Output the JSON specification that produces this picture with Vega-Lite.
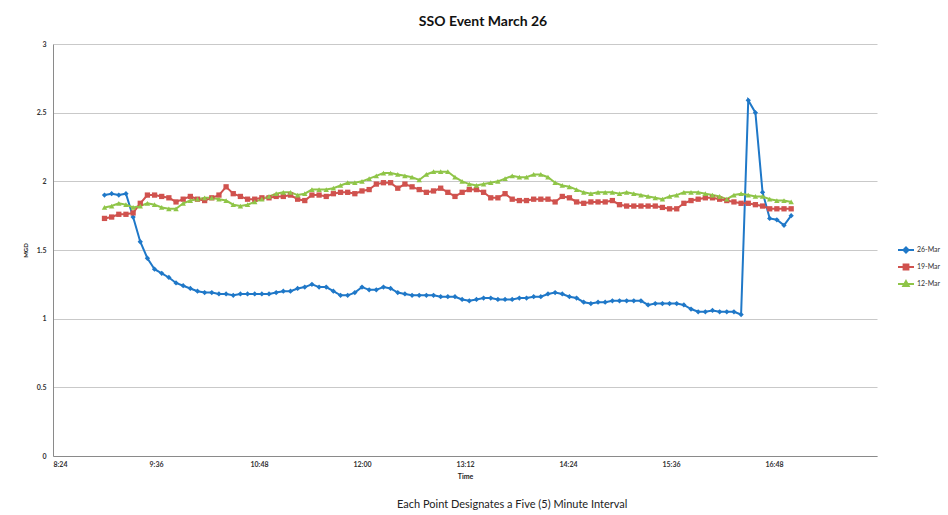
{
  "$schema": "https://vega.github.io/schema/vega-lite/v6.json",
  "width": 824,
  "height": 412,
  "autosize": "none",
  "padding": {"left": 53, "top": 44, "right": 71, "bottom": 59},
  "background": "white",
  "config": {"font": "Lato", "view": {"stroke": null}},
  "title": {"text": "SSO Event March 26", "fontSize": 14, "fontWeight": "bold", "color": "#111", "offset": 11, "dx": 18, "font": "Lato"},
  "layer": [
    {
      "data": {
        "format": {"parse": {"t": "date:'%H:%M'"}},
        "values": [
          {"t":"09:00","s":"26-Mar","v":1.90},{"t":"09:05","s":"26-Mar","v":1.91},{"t":"09:10","s":"26-Mar","v":1.90},{"t":"09:15","s":"26-Mar","v":1.91},{"t":"09:20","s":"26-Mar","v":1.74},{"t":"09:25","s":"26-Mar","v":1.56},{"t":"09:30","s":"26-Mar","v":1.44},{"t":"09:35","s":"26-Mar","v":1.36},{"t":"09:40","s":"26-Mar","v":1.33},{"t":"09:45","s":"26-Mar","v":1.30},{"t":"09:50","s":"26-Mar","v":1.26},{"t":"09:55","s":"26-Mar","v":1.24},
          {"t":"10:00","s":"26-Mar","v":1.22},{"t":"10:05","s":"26-Mar","v":1.20},{"t":"10:10","s":"26-Mar","v":1.19},{"t":"10:15","s":"26-Mar","v":1.19},{"t":"10:20","s":"26-Mar","v":1.18},{"t":"10:25","s":"26-Mar","v":1.18},{"t":"10:30","s":"26-Mar","v":1.17},{"t":"10:35","s":"26-Mar","v":1.18},{"t":"10:40","s":"26-Mar","v":1.18},{"t":"10:45","s":"26-Mar","v":1.18},{"t":"10:50","s":"26-Mar","v":1.18},{"t":"10:55","s":"26-Mar","v":1.18},
          {"t":"11:00","s":"26-Mar","v":1.19},{"t":"11:05","s":"26-Mar","v":1.20},{"t":"11:10","s":"26-Mar","v":1.20},{"t":"11:15","s":"26-Mar","v":1.22},{"t":"11:20","s":"26-Mar","v":1.23},{"t":"11:25","s":"26-Mar","v":1.25},{"t":"11:30","s":"26-Mar","v":1.23},{"t":"11:35","s":"26-Mar","v":1.23},{"t":"11:40","s":"26-Mar","v":1.20},{"t":"11:45","s":"26-Mar","v":1.17},{"t":"11:50","s":"26-Mar","v":1.17},{"t":"11:55","s":"26-Mar","v":1.19},
          {"t":"12:00","s":"26-Mar","v":1.23},{"t":"12:05","s":"26-Mar","v":1.21},{"t":"12:10","s":"26-Mar","v":1.21},{"t":"12:15","s":"26-Mar","v":1.23},{"t":"12:20","s":"26-Mar","v":1.22},{"t":"12:25","s":"26-Mar","v":1.19},{"t":"12:30","s":"26-Mar","v":1.18},{"t":"12:35","s":"26-Mar","v":1.17},{"t":"12:40","s":"26-Mar","v":1.17},{"t":"12:45","s":"26-Mar","v":1.17},{"t":"12:50","s":"26-Mar","v":1.17},{"t":"12:55","s":"26-Mar","v":1.16},
          {"t":"13:00","s":"26-Mar","v":1.16},{"t":"13:05","s":"26-Mar","v":1.16},{"t":"13:10","s":"26-Mar","v":1.14},{"t":"13:15","s":"26-Mar","v":1.13},{"t":"13:20","s":"26-Mar","v":1.14},{"t":"13:25","s":"26-Mar","v":1.15},{"t":"13:30","s":"26-Mar","v":1.15},{"t":"13:35","s":"26-Mar","v":1.14},{"t":"13:40","s":"26-Mar","v":1.14},{"t":"13:45","s":"26-Mar","v":1.14},{"t":"13:50","s":"26-Mar","v":1.15},{"t":"13:55","s":"26-Mar","v":1.15},
          {"t":"14:00","s":"26-Mar","v":1.16},{"t":"14:05","s":"26-Mar","v":1.16},{"t":"14:10","s":"26-Mar","v":1.18},{"t":"14:15","s":"26-Mar","v":1.19},{"t":"14:20","s":"26-Mar","v":1.18},{"t":"14:25","s":"26-Mar","v":1.16},{"t":"14:30","s":"26-Mar","v":1.15},{"t":"14:35","s":"26-Mar","v":1.12},{"t":"14:40","s":"26-Mar","v":1.11},{"t":"14:45","s":"26-Mar","v":1.12},{"t":"14:50","s":"26-Mar","v":1.12},{"t":"14:55","s":"26-Mar","v":1.13},
          {"t":"15:00","s":"26-Mar","v":1.13},{"t":"15:05","s":"26-Mar","v":1.13},{"t":"15:10","s":"26-Mar","v":1.13},{"t":"15:15","s":"26-Mar","v":1.13},{"t":"15:20","s":"26-Mar","v":1.10},{"t":"15:25","s":"26-Mar","v":1.11},{"t":"15:30","s":"26-Mar","v":1.11},{"t":"15:35","s":"26-Mar","v":1.11},{"t":"15:40","s":"26-Mar","v":1.11},{"t":"15:45","s":"26-Mar","v":1.10},{"t":"15:50","s":"26-Mar","v":1.07},{"t":"15:55","s":"26-Mar","v":1.05},
          {"t":"16:00","s":"26-Mar","v":1.05},{"t":"16:05","s":"26-Mar","v":1.06},{"t":"16:10","s":"26-Mar","v":1.05},{"t":"16:15","s":"26-Mar","v":1.05},{"t":"16:20","s":"26-Mar","v":1.05},{"t":"16:25","s":"26-Mar","v":1.03},{"t":"16:30","s":"26-Mar","v":2.59},{"t":"16:35","s":"26-Mar","v":2.50},{"t":"16:40","s":"26-Mar","v":1.92},{"t":"16:45","s":"26-Mar","v":1.73},{"t":"16:50","s":"26-Mar","v":1.72},{"t":"16:55","s":"26-Mar","v":1.68},
          {"t":"17:00","s":"26-Mar","v":1.75},
          {"t":"09:00","s":"19-Mar","v":1.73},{"t":"09:05","s":"19-Mar","v":1.74},{"t":"09:10","s":"19-Mar","v":1.76},{"t":"09:15","s":"19-Mar","v":1.76},{"t":"09:20","s":"19-Mar","v":1.77},{"t":"09:25","s":"19-Mar","v":1.84},{"t":"09:30","s":"19-Mar","v":1.90},{"t":"09:35","s":"19-Mar","v":1.90},{"t":"09:40","s":"19-Mar","v":1.89},{"t":"09:45","s":"19-Mar","v":1.88},{"t":"09:50","s":"19-Mar","v":1.85},{"t":"09:55","s":"19-Mar","v":1.87},
          {"t":"10:00","s":"19-Mar","v":1.89},{"t":"10:05","s":"19-Mar","v":1.87},{"t":"10:10","s":"19-Mar","v":1.86},{"t":"10:15","s":"19-Mar","v":1.88},{"t":"10:20","s":"19-Mar","v":1.90},{"t":"10:25","s":"19-Mar","v":1.96},{"t":"10:30","s":"19-Mar","v":1.91},{"t":"10:35","s":"19-Mar","v":1.89},{"t":"10:40","s":"19-Mar","v":1.87},{"t":"10:45","s":"19-Mar","v":1.87},{"t":"10:50","s":"19-Mar","v":1.88},{"t":"10:55","s":"19-Mar","v":1.88},
          {"t":"11:00","s":"19-Mar","v":1.89},{"t":"11:05","s":"19-Mar","v":1.89},{"t":"11:10","s":"19-Mar","v":1.90},{"t":"11:15","s":"19-Mar","v":1.87},{"t":"11:20","s":"19-Mar","v":1.86},{"t":"11:25","s":"19-Mar","v":1.90},{"t":"11:30","s":"19-Mar","v":1.90},{"t":"11:35","s":"19-Mar","v":1.89},{"t":"11:40","s":"19-Mar","v":1.91},{"t":"11:45","s":"19-Mar","v":1.92},{"t":"11:50","s":"19-Mar","v":1.92},{"t":"11:55","s":"19-Mar","v":1.91},
          {"t":"12:00","s":"19-Mar","v":1.93},{"t":"12:05","s":"19-Mar","v":1.94},{"t":"12:10","s":"19-Mar","v":1.98},{"t":"12:15","s":"19-Mar","v":1.99},{"t":"12:20","s":"19-Mar","v":1.99},{"t":"12:25","s":"19-Mar","v":1.95},{"t":"12:30","s":"19-Mar","v":1.98},{"t":"12:35","s":"19-Mar","v":1.96},{"t":"12:40","s":"19-Mar","v":1.94},{"t":"12:45","s":"19-Mar","v":1.92},{"t":"12:50","s":"19-Mar","v":1.93},{"t":"12:55","s":"19-Mar","v":1.95},
          {"t":"13:00","s":"19-Mar","v":1.92},{"t":"13:05","s":"19-Mar","v":1.89},{"t":"13:10","s":"19-Mar","v":1.92},{"t":"13:15","s":"19-Mar","v":1.94},{"t":"13:20","s":"19-Mar","v":1.94},{"t":"13:25","s":"19-Mar","v":1.92},{"t":"13:30","s":"19-Mar","v":1.88},{"t":"13:35","s":"19-Mar","v":1.88},{"t":"13:40","s":"19-Mar","v":1.91},{"t":"13:45","s":"19-Mar","v":1.87},{"t":"13:50","s":"19-Mar","v":1.86},{"t":"13:55","s":"19-Mar","v":1.86},
          {"t":"14:00","s":"19-Mar","v":1.87},{"t":"14:05","s":"19-Mar","v":1.87},{"t":"14:10","s":"19-Mar","v":1.87},{"t":"14:15","s":"19-Mar","v":1.85},{"t":"14:20","s":"19-Mar","v":1.89},{"t":"14:25","s":"19-Mar","v":1.88},{"t":"14:30","s":"19-Mar","v":1.85},{"t":"14:35","s":"19-Mar","v":1.84},{"t":"14:40","s":"19-Mar","v":1.85},{"t":"14:45","s":"19-Mar","v":1.85},{"t":"14:50","s":"19-Mar","v":1.85},{"t":"14:55","s":"19-Mar","v":1.86},
          {"t":"15:00","s":"19-Mar","v":1.83},{"t":"15:05","s":"19-Mar","v":1.82},{"t":"15:10","s":"19-Mar","v":1.82},{"t":"15:15","s":"19-Mar","v":1.82},{"t":"15:20","s":"19-Mar","v":1.82},{"t":"15:25","s":"19-Mar","v":1.82},{"t":"15:30","s":"19-Mar","v":1.81},{"t":"15:35","s":"19-Mar","v":1.80},{"t":"15:40","s":"19-Mar","v":1.80},{"t":"15:45","s":"19-Mar","v":1.84},{"t":"15:50","s":"19-Mar","v":1.86},{"t":"15:55","s":"19-Mar","v":1.87},
          {"t":"16:00","s":"19-Mar","v":1.88},{"t":"16:05","s":"19-Mar","v":1.88},{"t":"16:10","s":"19-Mar","v":1.87},{"t":"16:15","s":"19-Mar","v":1.86},{"t":"16:20","s":"19-Mar","v":1.85},{"t":"16:25","s":"19-Mar","v":1.84},{"t":"16:30","s":"19-Mar","v":1.84},{"t":"16:35","s":"19-Mar","v":1.83},{"t":"16:40","s":"19-Mar","v":1.82},{"t":"16:45","s":"19-Mar","v":1.80},{"t":"16:50","s":"19-Mar","v":1.80},{"t":"16:55","s":"19-Mar","v":1.80},
          {"t":"17:00","s":"19-Mar","v":1.80},
          {"t":"09:00","s":"12-Mar","v":1.81},{"t":"09:05","s":"12-Mar","v":1.82},{"t":"09:10","s":"12-Mar","v":1.84},{"t":"09:15","s":"12-Mar","v":1.83},{"t":"09:20","s":"12-Mar","v":1.81},{"t":"09:25","s":"12-Mar","v":1.82},{"t":"09:30","s":"12-Mar","v":1.84},{"t":"09:35","s":"12-Mar","v":1.83},{"t":"09:40","s":"12-Mar","v":1.81},{"t":"09:45","s":"12-Mar","v":1.80},{"t":"09:50","s":"12-Mar","v":1.80},{"t":"09:55","s":"12-Mar","v":1.84},
          {"t":"10:00","s":"12-Mar","v":1.86},{"t":"10:05","s":"12-Mar","v":1.87},{"t":"10:10","s":"12-Mar","v":1.88},{"t":"10:15","s":"12-Mar","v":1.88},{"t":"10:20","s":"12-Mar","v":1.87},{"t":"10:25","s":"12-Mar","v":1.86},{"t":"10:30","s":"12-Mar","v":1.83},{"t":"10:35","s":"12-Mar","v":1.82},{"t":"10:40","s":"12-Mar","v":1.83},{"t":"10:45","s":"12-Mar","v":1.85},{"t":"10:50","s":"12-Mar","v":1.87},{"t":"10:55","s":"12-Mar","v":1.89},
          {"t":"11:00","s":"12-Mar","v":1.91},{"t":"11:05","s":"12-Mar","v":1.92},{"t":"11:10","s":"12-Mar","v":1.92},{"t":"11:15","s":"12-Mar","v":1.90},{"t":"11:20","s":"12-Mar","v":1.91},{"t":"11:25","s":"12-Mar","v":1.94},{"t":"11:30","s":"12-Mar","v":1.94},{"t":"11:35","s":"12-Mar","v":1.94},{"t":"11:40","s":"12-Mar","v":1.95},{"t":"11:45","s":"12-Mar","v":1.97},{"t":"11:50","s":"12-Mar","v":1.99},{"t":"11:55","s":"12-Mar","v":1.99},
          {"t":"12:00","s":"12-Mar","v":2.00},{"t":"12:05","s":"12-Mar","v":2.02},{"t":"12:10","s":"12-Mar","v":2.04},{"t":"12:15","s":"12-Mar","v":2.06},{"t":"12:20","s":"12-Mar","v":2.06},{"t":"12:25","s":"12-Mar","v":2.05},{"t":"12:30","s":"12-Mar","v":2.04},{"t":"12:35","s":"12-Mar","v":2.03},{"t":"12:40","s":"12-Mar","v":2.01},{"t":"12:45","s":"12-Mar","v":2.05},{"t":"12:50","s":"12-Mar","v":2.07},{"t":"12:55","s":"12-Mar","v":2.07},
          {"t":"13:00","s":"12-Mar","v":2.07},{"t":"13:05","s":"12-Mar","v":2.03},{"t":"13:10","s":"12-Mar","v":2.00},{"t":"13:15","s":"12-Mar","v":1.98},{"t":"13:20","s":"12-Mar","v":1.97},{"t":"13:25","s":"12-Mar","v":1.98},{"t":"13:30","s":"12-Mar","v":1.99},{"t":"13:35","s":"12-Mar","v":2.00},{"t":"13:40","s":"12-Mar","v":2.02},{"t":"13:45","s":"12-Mar","v":2.04},{"t":"13:50","s":"12-Mar","v":2.03},{"t":"13:55","s":"12-Mar","v":2.03},
          {"t":"14:00","s":"12-Mar","v":2.05},{"t":"14:05","s":"12-Mar","v":2.05},{"t":"14:10","s":"12-Mar","v":2.03},{"t":"14:15","s":"12-Mar","v":1.99},{"t":"14:20","s":"12-Mar","v":1.97},{"t":"14:25","s":"12-Mar","v":1.96},{"t":"14:30","s":"12-Mar","v":1.94},{"t":"14:35","s":"12-Mar","v":1.92},{"t":"14:40","s":"12-Mar","v":1.91},{"t":"14:45","s":"12-Mar","v":1.92},{"t":"14:50","s":"12-Mar","v":1.92},{"t":"14:55","s":"12-Mar","v":1.92},
          {"t":"15:00","s":"12-Mar","v":1.91},{"t":"15:05","s":"12-Mar","v":1.92},{"t":"15:10","s":"12-Mar","v":1.91},{"t":"15:15","s":"12-Mar","v":1.90},{"t":"15:20","s":"12-Mar","v":1.89},{"t":"15:25","s":"12-Mar","v":1.88},{"t":"15:30","s":"12-Mar","v":1.87},{"t":"15:35","s":"12-Mar","v":1.89},{"t":"15:40","s":"12-Mar","v":1.90},{"t":"15:45","s":"12-Mar","v":1.92},{"t":"15:50","s":"12-Mar","v":1.92},{"t":"15:55","s":"12-Mar","v":1.92},
          {"t":"16:00","s":"12-Mar","v":1.91},{"t":"16:05","s":"12-Mar","v":1.90},{"t":"16:10","s":"12-Mar","v":1.89},{"t":"16:15","s":"12-Mar","v":1.87},{"t":"16:20","s":"12-Mar","v":1.90},{"t":"16:25","s":"12-Mar","v":1.91},{"t":"16:30","s":"12-Mar","v":1.90},{"t":"16:35","s":"12-Mar","v":1.89},{"t":"16:40","s":"12-Mar","v":1.89},{"t":"16:45","s":"12-Mar","v":1.87},{"t":"16:50","s":"12-Mar","v":1.86},{"t":"16:55","s":"12-Mar","v":1.86},
          {"t":"17:00","s":"12-Mar","v":1.85}
        ]
      },
      "layer": [
        {
          "mark": {"type": "line", "strokeWidth": 2},
          "encoding": {
            "x": {"field": "t", "type": "temporal",
              "scale": {"domain": [{"year":1900,"month":1,"date":1,"hours":8,"minutes":24},{"year":1900,"month":1,"date":1,"hours":18,"minutes":0}]},
              "axis": {"title": "Time", "format": "%-H:%M",
                "values": [{"year":1900,"month":1,"date":1,"hours":8,"minutes":24},{"year":1900,"month":1,"date":1,"hours":9,"minutes":36},{"year":1900,"month":1,"date":1,"hours":10,"minutes":48},{"year":1900,"month":1,"date":1,"hours":12,"minutes":0},{"year":1900,"month":1,"date":1,"hours":13,"minutes":12},{"year":1900,"month":1,"date":1,"hours":14,"minutes":24},{"year":1900,"month":1,"date":1,"hours":15,"minutes":36},{"year":1900,"month":1,"date":1,"hours":16,"minutes":48}],
                "grid": false, "domainColor": "#8a8a8a", "tickSize": 0, "labelPadding": 4,
                "labelFontSize": 7, "labelFontWeight": "bold", "labelColor": "#333", "labelFont": "Lato",
                "titleFontSize": 7, "titleFontWeight": "bold", "titleColor": "#222", "titlePadding": 5, "titleFont": "Lato"}},
            "y": {"field": "v", "type": "quantitative",
              "scale": {"domain": [0, 3]},
              "axis": {"title": "MGD", "values": [0, 0.5, 1, 1.5, 2, 2.5, 3], "format": "~g",
                "grid": true, "gridColor": "#c9c9c9", "domainColor": "#8a8a8a", "tickSize": 0, "labelPadding": 7,
                "labelFontSize": 7, "labelFontWeight": "bold", "labelColor": "#333", "labelFont": "Lato",
                "titleFontSize": 6, "titleFontWeight": "bold", "titleColor": "#222", "titlePadding": 8, "titleFont": "Lato"}},
            "color": {"field": "s", "type": "nominal",
              "scale": {"domain": ["26-Mar", "19-Mar", "12-Mar"], "range": ["#1f78c8", "#d0524e", "#8fc548"]},
              "legend": {"title": null, "orient": "none", "legendX": 844, "legendY": 197,
                "labelFontSize": 7, "labelColor": "#333", "labelFont": "Lato", "symbolSize": 256, "rowPadding": 1, "labelOffset": 2,
                "symbolStrokeWidth": 2,
                "encode": {"symbols": {"update": {
                  "shape": {"signal": "datum.value == '26-Mar' ? 'M-1,0H1M0,-0.32L0.32,0L0,0.32L-0.32,0Z' : datum.value == '19-Mar' ? 'M-1,0H1M-0.3,-0.3H0.3V0.3H-0.3Z' : 'M-1,0H1M0,-0.36L0.34,0.26H-0.34Z'"},
                  "stroke": {"signal": "scale('color', datum.value)"},
                  "fill": {"signal": "scale('color', datum.value)"},
                  "strokeWidth": {"value": 2}}}}}}
          }
        },
        {
          "transform": [{"filter": "datum.s == '26-Mar'"}],
          "mark": {"type": "point", "filled": true, "opacity": 1, "size": 28, "shape": "diamond"},
          "encoding": {
            "x": {"field": "t", "type": "temporal"},
            "y": {"field": "v", "type": "quantitative"},
            "color": {"field": "s", "type": "nominal", "legend": null}
          }
        },
        {
          "transform": [{"filter": "datum.s == '19-Mar'"}],
          "mark": {"type": "point", "filled": true, "opacity": 1, "size": 28, "shape": "square"},
          "encoding": {
            "x": {"field": "t", "type": "temporal"},
            "y": {"field": "v", "type": "quantitative"},
            "color": {"field": "s", "type": "nominal", "legend": null}
          }
        },
        {
          "transform": [{"filter": "datum.s == '12-Mar'"}],
          "mark": {"type": "point", "filled": true, "opacity": 1, "size": 30, "shape": "triangle-up"},
          "encoding": {
            "x": {"field": "t", "type": "temporal"},
            "y": {"field": "v", "type": "quantitative"},
            "color": {"field": "s", "type": "nominal", "legend": null}
          }
        }
      ]
    },
    {
      "data": {"values": [{"note": "Each Point Designates a Five (5) Minute Interval"}]},
      "mark": {"type": "text", "fontSize": 11, "font": "Lato", "color": "#222", "baseline": "middle", "align": "center"},
      "encoding": {
        "text": {"field": "note", "type": "nominal"},
        "x": {"datum": {"year":1900,"month":1,"date":1,"hours":13,"minutes":45}, "type": "temporal"},
        "y": {"datum": -0.36, "type": "quantitative"}
      }
    }
  ]
}
